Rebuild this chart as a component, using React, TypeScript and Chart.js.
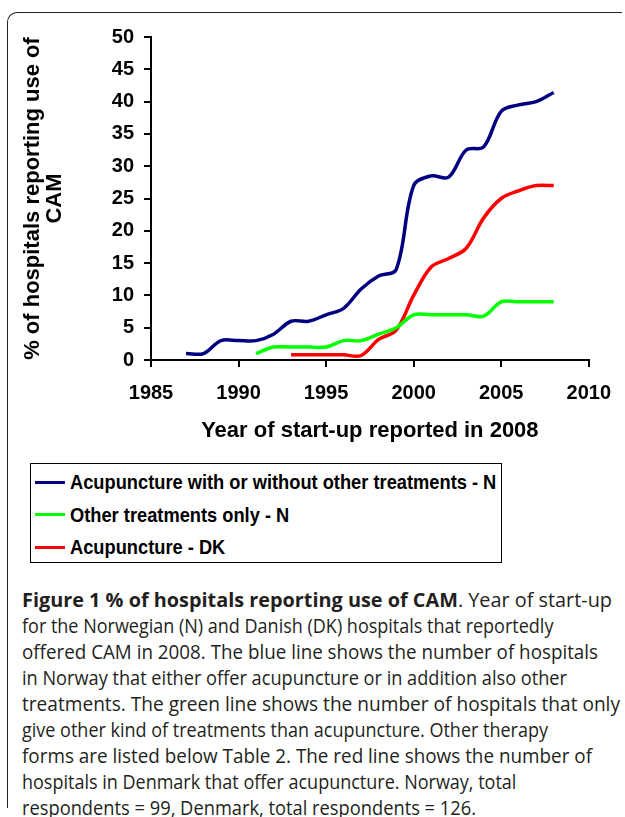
import React, { useEffect, useLayoutEffect, useRef } from "react";
import { Chart, registerables } from "chart.js";

Chart.register(...registerables);

const years = [1987, 1988, 1989, 1990, 1991, 1992, 1993, 1994, 1995, 1996, 1997, 1998, 1999, 2000, 2001, 2002, 2003, 2004, 2005, 2006, 2007, 2008];
const acupunctureN = [1, 1, 3, 3, 3, 4, 6, 6, 7, 8, 11, 13, 14, 27, 28.5, 28.3, 32.5, 33, 38.5, 39.5, 40, 41.4];
const otherN = [null, null, null, null, 1, 2, 2, 2, 2, 3, 3, 4, 5, 7, 7, 7, 7, 6.8, 9, 9, 9, 9];
const acupunctureDK = [null, null, null, null, null, null, 0.8, 0.8, 0.8, 0.8, 0.7, 3.2, 4.6, 10, 14.4, 15.7, 17.3, 22, 25, 26.2, 27, 27];

const seriesNames = [
  "Acupuncture with or without other treatments - N",
  "Other treatments only - N",
  "Acupuncture - DK",
];
const seriesColors = ["#000080", "#00FF00", "#FF0000"];
const seriesValues = [acupunctureN, otherN, acupunctureDK];

const xTitle = "Year of start-up reported in 2008";
const yTitle = ["% of hospitals reporting use of", "CAM"];

const captionBold = "Figure 1 % of hospitals reporting use of CAM";
const captionLines = [
  ". Year of start-up",
  "for the Norwegian (N) and Danish (DK) hospitals that reportedly",
  "offered CAM in 2008. The blue line shows the number of hospitals",
  "in Norway that either offer acupuncture or in addition also other",
  "treatments. The green line shows the number of hospitals that only",
  "give other kind of treatments than acupuncture. Other therapy",
  "forms are listed below Table 2. The red line shows the number of",
  "hospitals in Denmark that offer acupuncture. Norway, total",
  "respondents = 99, Denmark, total respondents = 126.",
];
// approximate widths of each caption line in the reference (px)
const captionWidths = [590, 509, 576, 545, 598, 475, 570, 452, 454];

const CHART_W = 625;
const CHART_H = 450;
const AREA_LEFT = 151;
const AREA_TOP = 37;
const AREA_RIGHT = 595;
const AREA_BOTTOM = 360;

export default function App() {
  const ref = useRef<HTMLCanvasElement | null>(null);
  const lineRefs = useRef<(HTMLSpanElement | null)[]>([]);

  useLayoutEffect(() => {
    lineRefs.current.forEach((el, i) => {
      if (!el) return;
      const w = el.getBoundingClientRect().width;
      if (w > 0) {
        const s = Math.max(0.9, Math.min(1.0, captionWidths[i] / w));
        el.style.transform = `scaleX(${s})`;
      }
    });
  }, []);

  useEffect(() => {
    if (!ref.current) return;
    const datasets = seriesValues.map((vals, i) => ({
      label: seriesNames[i],
      data: years
        .map((y, j) => ({ x: y, y: vals[j] }))
        .filter((p) => p.y !== null),
      borderColor: seriesColors[i],
      backgroundColor: seriesColors[i],
      borderWidth: 3.5,
      pointRadius: 0,
      tension: 0.35,
      fill: false,
    }));
    const font = "Liberation Sans, Arial, Helvetica, sans-serif";
    const chart = new Chart(ref.current, {
      type: "line",
      data: { datasets },
      options: {
        animation: false,
        responsive: false,
        maintainAspectRatio: false,
        layout: {
          padding: { left: 0, top: AREA_TOP, right: CHART_W - AREA_RIGHT, bottom: 0 },
        },
        plugins: { legend: { display: false }, tooltip: { enabled: false } },
        scales: {
          x: {
            type: "linear",
            min: 1985,
            max: 2010,
            afterFit: (s: any) => {
              s.height = CHART_H - AREA_BOTTOM;
            },
            ticks: {
              stepSize: 5,
              color: "#000",
              padding: 14,
              font: { family: font, size: 20, weight: "bold", lineHeight: 1.2 },
              callback: (v: any) => String(v),
              maxRotation: 0,
            },
            grid: { drawOnChartArea: false, color: "#000", lineWidth: 2, tickLength: 7 },
            border: { color: "#000", width: 2 },
            title: {
              display: true,
              text: xTitle,
              color: "#000",
              font: { family: font, size: 22, weight: "bold", lineHeight: 1.0 },
              padding: { top: 0, bottom: 8 },
            },
          },
          y: {
            min: 0,
            max: 50,
            afterFit: (s: any) => {
              s.width = AREA_LEFT;
            },
            ticks: {
              stepSize: 5,
              color: "#000",
              padding: 10,
              font: { family: font, size: 20, weight: "bold", lineHeight: 1.2 },
            },
            grid: { drawOnChartArea: false, color: "#000", lineWidth: 2, tickLength: 7 },
            border: { color: "#000", width: 2 },
            title: {
              display: true,
              text: yTitle,
              color: "#000",
              font: { family: font, size: 22, weight: "bold", lineHeight: 1.0 },
              padding: { top: 22, bottom: 0 },
            },
          },
        },
      },
    });
    return () => chart.destroy();
  }, []);

  return (
    <div style={{ position: "absolute", left: 0, top: 0, width: 625, height: 817, background: "#fff", overflow: "hidden" }}>
      <div
        style={{
          position: "absolute",
          left: 7,
          top: 12,
          width: 615,
          height: 796,
          borderTop: "1.5px solid #222",
          borderLeft: "1.5px solid #222",
          borderTopLeftRadius: 10,
          boxSizing: "border-box",
        }}
      />
      <canvas ref={ref} width={CHART_W} height={CHART_H} style={{ position: "absolute", left: 0, top: 0, width: CHART_W, height: CHART_H }} />
      <div
        style={{
          position: "absolute",
          left: 30,
          top: 463,
          width: 472,
          height: 100,
          border: "1.5px solid #000",
          boxSizing: "border-box",
          paddingTop: 2,
        }}
      >
        {seriesNames.map((name, i) => (
          <div key={name} style={{ position: "relative", height: 32.5, display: "flex", alignItems: "center" }}>
            <div style={{ position: "absolute", left: 4, width: 30, height: 3, background: seriesColors[i] }} />
            <div
              style={{
                position: "absolute",
                left: 39,
                fontFamily: "Liberation Sans, Arial, sans-serif",
                fontWeight: "bold",
                fontSize: 21,
                whiteSpace: "nowrap",
                transform: "scaleX(0.87)",
                transformOrigin: "left center",
                color: "#000",
              }}
            >
              {name}
            </div>
          </div>
        ))}
      </div>
      <div
        style={{
          position: "absolute",
          left: 22,
          top: 587,
          fontFamily: "'Open Sans', sans-serif",
          fontSize: 20,
          lineHeight: "26px",
          color: "#231f20",
          whiteSpace: "nowrap",
        }}
      >
        {captionLines.map((line, i) => (
          <div key={i} style={{ height: 26 }}>
            <span
              ref={(el) => {
                lineRefs.current[i] = el;
              }}
              style={{ display: "inline-block", transformOrigin: "left center" }}
            >
              {i === 0 ? <b>{captionBold}</b> : null}
              {line}
            </span>
          </div>
        ))}
      </div>
    </div>
  );
}
